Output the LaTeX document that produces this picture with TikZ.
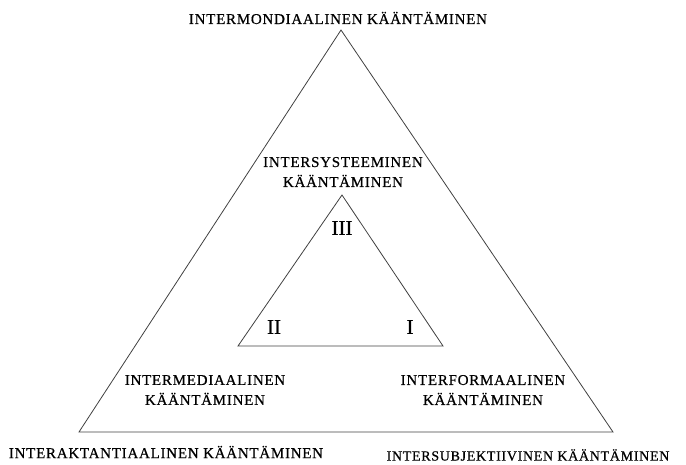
\documentclass[tikz,border=0pt]{standalone}
\usepackage{fontspec}
\setmainfont{Liberation Serif}
\newfontfamily\lblfont[LetterSpace=5,FakeBold=0.6]{Liberation Serif}
\newfontfamily\numfont[FakeBold=0.3]{Liberation Serif}
\begin{document}
\begin{tikzpicture}[x=1pt,y=-1pt,
  lbl/.style={font=\lblfont\fontsize{15}{20}\selectfont, align=center, inner sep=0pt},
  lblsmall/.style={font=\lblfont\fontsize{14}{20}\selectfont, align=center, inner sep=0pt},
  num/.style={font=\numfont\fontsize{21}{21}\selectfont, inner sep=0pt},
  tri/.style={draw=black!75, line width=0.8pt, line join=miter}]
\path[use as bounding box] (0,0) rectangle (686,465);
% outer triangle
\coordinate (OA) at (341,30);
\coordinate (OL) at (79,432);
\coordinate (OR) at (613,432);
\draw[tri] (OA) -- (OL) -- (OR) -- cycle;
% inner triangle
\coordinate (IA) at (342,195);
\coordinate (IL) at (238,346);
\coordinate (IR) at (443,346);
\draw[tri] (IA) -- (IL) -- (IR) -- cycle;
% labels
\node[lbl] (top) at (338,18) {INTERMONDIAALINEN KÄÄNTÄMINEN};
\node[lbl] (sys) at (343,172) {INTERSYSTEEMINEN\\KÄÄNTÄMINEN};
\node[lbl] (med) at (205,390) {INTERMEDIAALINEN\\KÄÄNTÄMINEN};
\node[lbl] (form) at (483,390) {INTERFORMAALINEN\\KÄÄNTÄMINEN};
\node[lbl] (akt) at (166,452) {INTERAKTANTIAALINEN KÄÄNTÄMINEN};
\node[lblsmall] (subj) at (528,455) {INTERSUBJEKTIIVINEN KÄÄNTÄMINEN};
\node[num] (n3) at (342,228) {III};
\node[num] (n2) at (274,327) {II};
\node[num] (n1) at (410,327) {I};
\end{tikzpicture}
\end{document}
